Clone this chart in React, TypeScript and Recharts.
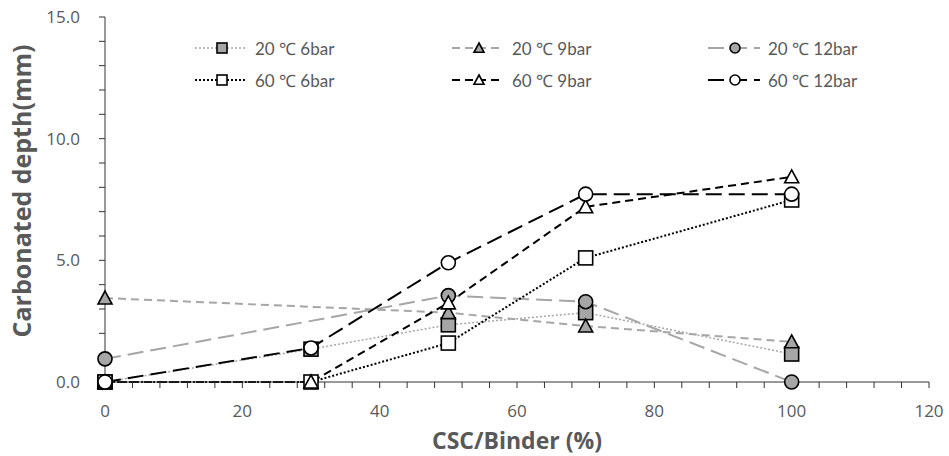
import React from 'react';
import { LineChart, Line, XAxis, YAxis, Legend, Label } from 'recharts';

const xValues = [0, 30, 50, 70, 100];
const s20_6 = [0, 1.35, 2.35, 2.85, 1.15];
const s20_9 = [3.45, null, 2.85, 2.3, 1.65];
const s20_12 = [0.95, null, 3.55, 3.3, 0];
const s60_6 = [0, 0, 1.6, 5.1, 7.48];
const s60_9 = [0, 0, 3.25, 7.2, 8.43];
const s60_12 = [0, 1.4, 4.9, 7.72, 7.72];

const xTicks = Array.from({ length: 31 }, (_, i) => i * 4);
const yTicks = Array.from({ length: 16 }, (_, i) => i);

const GRAY = '#a6a6a6';
const TEXT = '#595959';
const FONT = "Lato, 'Noto Sans', 'DejaVu Sans', sans-serif";
const FONT2 = "'Open Sans', 'Noto Sans', 'DejaVu Sans', sans-serif";

type Shape = 'square' | 'triangle' | 'circle';
interface Series { key: string; name: string; values: (number | null)[]; color: string; dash: string; width: number; shape: Shape; fill: string; }

const series: Series[] = [
  { key: 'a', name: '20 ℃ 6bar', values: s20_6, color: GRAY, dash: '2 2', width: 1.5, shape: 'square', fill: GRAY },
  { key: 'b', name: '20 ℃ 9bar', values: s20_9, color: GRAY, dash: '8 5', width: 2, shape: 'triangle', fill: GRAY },
  { key: 'c', name: '20 ℃ 12bar', values: s20_12, color: GRAY, dash: '16 7', width: 2, shape: 'circle', fill: GRAY },
  { key: 'd', name: '60 ℃ 6bar', values: s60_6, color: '#000', dash: '2 2', width: 2, shape: 'square', fill: '#fff' },
  { key: 'e', name: '60 ℃ 9bar', values: s60_9, color: '#000', dash: '8 5', width: 2, shape: 'triangle', fill: '#fff' },
  { key: 'f', name: '60 ℃ 12bar', values: s60_12, color: '#000', dash: '16 7', width: 2, shape: 'circle', fill: '#fff' },
];

const data = xValues.map((x, i) => {
  const row: Record<string, number | null> = { x };
  series.forEach((s) => { row[s.key] = s.values[i]; });
  return row;
});

function marker(shape: Shape, cx: number, cy: number, size: number, fill: string, sw: number, key?: any) {
  const h = size / 2;
  if (shape === 'square') return <rect key={key} x={cx - h} y={cy - h} width={size} height={size} fill={fill} stroke="#000" strokeWidth={sw} />;
  if (shape === 'circle') return <circle key={key} cx={cx} cy={cy} r={h} fill={fill} stroke="#000" strokeWidth={sw} />;
  return <polygon key={key} points={`${cx},${cy - h} ${cx + h},${cy + h * 0.85} ${cx - h},${cy + h * 0.85}`} fill={fill} stroke="#000" strokeWidth={sw} />;
}

const makeDot = (s: Series) => (props: any) => {
  const { cx, cy, index, value } = props;
  if (cx == null || cy == null || value == null || Number.isNaN(cy)) return <g key={`${s.key}-${index}`} />;
  return marker(s.shape, cx, cy, 14, s.fill, 1.6, `${s.key}-${index}`);
};

const LegendContent = () => {
  const startX = [195, 452, 708];
  const rowY = [48, 80];
  return (
    <svg width={949} height={100} style={{ display: 'block' }}>
      {series.map((s, i) => {
        const col = i % 3;
        const row = Math.floor(i / 3);
        const x0 = startX[col];
        const y = rowY[row];
        return (
          <g key={s.key}>
            <line x1={x0} y1={y} x2={x0 + 52} y2={y} stroke={s.color} strokeWidth={s.width} strokeDasharray={s.dash} />
            {marker(s.shape, x0 + 27, y, 10, s.fill, 1.6)}
            <text x={x0 + 60} y={y + 7} fill={TEXT} fontSize={17} fontFamily={FONT}>{s.name}</text>
          </g>
        );
      })}
    </svg>
  );
};

export default function App() {
  return (
    <div style={{ position: 'absolute', left: 0, top: 0, width: 949, height: 456, background: '#fff' }}>
      <LineChart width={949} height={456} data={data} margin={{ top: 17, right: 20, bottom: 0, left: 45 }} style={{ fontFamily: FONT2 }}>
        <XAxis dataKey="x" type="number" domain={[0, 120]} ticks={xTicks} interval={0}
          tickFormatter={(v: number) => (v % 20 === 0 ? String(v) : '')}
          height={74} tickSize={6} tickMargin={17}
          stroke="#333" tick={{ fill: TEXT, fontSize: 17, fontFamily: FONT2 }}>
          <Label content={() => (
            <text x={517} y={449} textAnchor="middle" fill={TEXT} fontSize={23} fontWeight="bold" fontFamily={FONT2}>CSC/Binder (%)</text>
          )} />
        </XAxis>
        <YAxis type="number" domain={[0, 15]} ticks={yTicks} interval={0}
          tickFormatter={(v: number) => (v % 5 === 0 ? v.toFixed(1) : '')}
          width={60} tickSize={6} tickMargin={19}
          stroke="#333" tick={{ fill: TEXT, fontSize: 17, fontFamily: FONT2 }}>
          <Label content={() => (
            <text x={0} y={0} transform="translate(31,191) rotate(-90)" textAnchor="middle" fill={TEXT} fontSize={25} fontWeight="bold" fontFamily={FONT2}>Carbonated depth(mm)</text>
          )} />
        </YAxis>
        <Legend layout="horizontal" verticalAlign="middle" align="center" content={() => <LegendContent />}
          wrapperStyle={{ top: 0, left: 0, width: 949, height: 100 }} />
        {series.map((s) => (
          <Line key={s.key} dataKey={s.key} name={s.name} type="linear" stroke={s.color} strokeWidth={s.width}
            strokeDasharray={s.dash} dot={makeDot(s)} activeDot={false} connectNulls isAnimationActive={false} />
        ))}
      </LineChart>
    </div>
  );
}
